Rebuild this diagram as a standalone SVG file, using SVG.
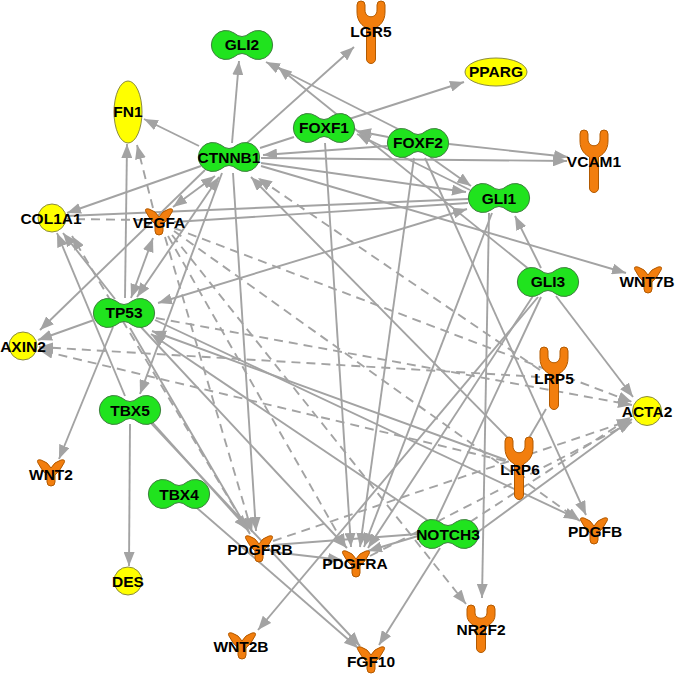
<svg xmlns="http://www.w3.org/2000/svg" xmlns:xlink="http://www.w3.org/1999/xlink" width="675" height="675" viewBox="0 0 675 675">
<style>
.e{stroke:#a3a3a3;stroke-width:1.9;fill:none;marker-end:url(#ah)}
.d{stroke:#a3a3a3;stroke-width:1.9;fill:none;stroke-dasharray:9 6;marker-end:url(#ah)}
.n{marker-end:none}
.b{marker-start:url(#ah)}
.g{fill:#20e31e;stroke:#3f7f3f;stroke-width:1}
.y{fill:#ffff00;stroke:#8a8a40;stroke-width:1}
.o{fill:#f27e0e;stroke:#b35a00;stroke-width:1}
text{font-family:"Liberation Sans",Arial,sans-serif;font-weight:bold;font-size:15.5px;fill:#000;text-anchor:middle}
</style>
<defs>
<marker id="ah" viewBox="0 0 14 11" refX="14" refY="5.5" markerWidth="14" markerHeight="11" markerUnits="userSpaceOnUse" orient="auto-start-reverse"><path d="M0,0 L14,5.5 L0,11 z" fill="#a3a3a3"/></marker>
<path id="db" d="M -8,-12 A 14.5 14.5 0 1 0 -8,12 Q 0,5 8,12 A 14.5 14.5 0 1 0 8,-12 Q 0,-5 -8,-12 Z"/>
<path id="rc" d="M -14,-27 A 4 4 0 0 1 -6,-27 L -6,-22 C -6,-13 6,-13 6,-22 L 6,-27 A 4 4 0 0 1 14,-27 L 14,-20 C 14,-10 8,-6 4.5,-4 L 4.5,27 A 4.5 4.5 0 0 1 -4.5,27 L -4.5,-4 C -8,-6 -14,-10 -14,-20 Z"/>
<path id="rs" d="M -14,-20 A 4 4 0 0 1 -6,-20 L -6,-16 C -6,-9 6,-9 6,-16 L 6,-20 A 4 4 0 0 1 14,-20 L 14,-14 C 14,-7 8,-4 4.5,-2 L 4.5,19 A 4.5 4.5 0 0 1 -4.5,19 L -4.5,-2 C -8,-4 -14,-7 -14,-14 Z"/>
<path id="lg" d="M -13,-10 Q -15,-14 -10,-13 Q -3,-11 0,-5 Q 3,-11 10,-13 Q 15,-14 13,-10 Q 9,-2 4,2 L 4,9 A 4 4 0 0 1 -4,9 L -4,2 Q -9,-2 -13,-10 Z"/>
</defs>
<rect width="675" height="675" fill="#fff"/>
<g id="edges">
<line class="e" x1="232" y1="143" x2="239" y2="61"/>
<line class="e" x1="199" y1="146" x2="144" y2="119"/>
<line class="e" x1="247" y1="143" x2="354" y2="47"/>
<line class="e" x1="201" y1="166" x2="67" y2="213"/>
<line class="e" x1="261" y1="158" x2="567" y2="161"/>
<line class="e" x1="261" y1="163" x2="466" y2="192"/>
<line class="e" x1="261" y1="166" x2="626" y2="273"/>
<line class="e" x1="222" y1="173" x2="140" y2="394"/>
<line class="e" x1="233" y1="173" x2="256" y2="531"/>
<line class="e" x1="205" y1="170" x2="40" y2="330"/>
<line class="e n" x1="260" y1="148" x2="294" y2="137"/>
<line class="e b" x1="215" y1="176" x2="173" y2="207"/>
<line class="e b" x1="219" y1="177" x2="137" y2="297"/>
<line class="e" x1="387" y1="146" x2="263" y2="155"/>
<line class="e" x1="510" y1="440" x2="251" y2="177"/>
<line class="d" x1="540" y1="370" x2="258" y2="178"/>
<line class="e" x1="349" y1="119" x2="464" y2="82"/>
<line class="e" x1="388" y1="137" x2="357" y2="131"/>
<line class="e" x1="470" y1="190" x2="357" y2="134"/>
<line class="e" x1="402" y1="131" x2="266" y2="62"/>
<line class="e" x1="530" y1="270" x2="278" y2="67"/>
<line class="e" x1="449" y1="144" x2="568" y2="157"/>
<line class="e" x1="430" y1="157" x2="471" y2="186"/>
<line class="e" x1="325" y1="143" x2="351" y2="547"/>
<line class="e" x1="414" y1="158" x2="360" y2="547"/>
<line class="e" x1="425" y1="158" x2="586" y2="515"/>
<line class="e" x1="541" y1="268" x2="515" y2="216"/>
<line class="e b" x1="158" y1="303" x2="467" y2="209"/>
<line class="e n" x1="468" y1="199" x2="66" y2="216"/>
<line class="e n" x1="468" y1="203" x2="174" y2="222"/>
<line class="e" x1="489" y1="213" x2="482" y2="598"/>
<line class="e" x1="492" y1="213" x2="364" y2="547"/>
<line class="e" x1="556" y1="296" x2="633" y2="397"/>
<line class="e" x1="538" y1="297" x2="258" y2="630"/>
<line class="e" x1="533" y1="296" x2="368" y2="548"/>
<line class="e n" x1="541" y1="297" x2="436" y2="521"/>
<line class="e" x1="125" y1="298" x2="127" y2="144"/>
<line class="e b" x1="131" y1="298" x2="153" y2="238"/>
<line class="e" x1="115" y1="299" x2="63" y2="233"/>
<line class="e" x1="125" y1="396" x2="57" y2="233"/>
<line class="e" x1="94" y1="320" x2="38" y2="340"/>
<line class="e" x1="113" y1="327" x2="59" y2="459"/>
<line class="e" x1="130" y1="424" x2="129" y2="566"/>
<line class="e" x1="150" y1="422" x2="360" y2="646"/>
<line class="e" x1="150" y1="420" x2="248" y2="529"/>
<line class="e" x1="197" y1="508" x2="358" y2="648"/>
<line class="e" x1="130" y1="328" x2="249" y2="532"/>
<line class="e" x1="140" y1="326" x2="347" y2="548"/>
<line class="e" x1="155" y1="320" x2="578" y2="519"/>
<line class="e" x1="506" y1="460" x2="152" y2="331"/>
<line class="e" x1="430" y1="522" x2="151" y2="334"/>
<line class="e" x1="440" y1="548" x2="379" y2="645"/>
<line class="e" x1="418" y1="536" x2="368" y2="551"/>
<line class="e" x1="478" y1="532" x2="632" y2="419"/>
<line class="e" x1="273" y1="552" x2="342" y2="560"/>
<line class="e n" x1="273" y1="545" x2="418" y2="534"/>
<line class="d" x1="273" y1="541" x2="631" y2="420"/>
<line class="d" x1="370" y1="556" x2="632" y2="422"/>
<line class="d" x1="470" y1="522" x2="631" y2="417"/>
<line class="d" x1="540" y1="377" x2="39" y2="347"/>
<line class="d" x1="505" y1="461" x2="39" y2="350"/>
<line class="d" x1="156" y1="318" x2="632" y2="405"/>
<line class="d" x1="174" y1="228" x2="632" y2="402"/>
<line class="d" x1="153" y1="208" x2="137" y2="145"/>
<line class="d n" x1="145" y1="220" x2="67" y2="219"/>
<line class="d" x1="165" y1="237" x2="252" y2="532"/>
<line class="d" x1="168" y1="236" x2="346" y2="548"/>
<line class="d" x1="172" y1="235" x2="466" y2="604"/>
<line class="d" x1="174" y1="231" x2="580" y2="521"/>
<line class="e n" x1="546" y1="409" x2="529" y2="438"/>
<line class="d" x1="250" y1="534" x2="72" y2="236"/>
</g>
<g id="n-GLI2"><use href="#db" x="242" y="45" class="g"/><text x="242" y="50">GLI2</text></g>
<g id="n-LGR5"><use href="#rc" x="371" y="32" class="o"/><text x="371" y="37">LGR5</text></g>
<g id="n-PPARG"><ellipse cx="496" cy="72" rx="31" ry="14" class="y"/><text x="496" y="77">PPARG</text></g>
<g id="n-FN1"><ellipse cx="128" cy="112" rx="14" ry="31" class="y"/><text x="128" y="117">FN1</text></g>
<g id="n-FOXF1"><use href="#db" x="324" y="128" class="g"/><text x="324" y="133">FOXF1</text></g>
<g id="n-CTNNB1"><use href="#db" x="229" y="157" class="g"/><text x="229" y="163">CTNNB1</text></g>
<g id="n-FOXF2"><use href="#db" x="418" y="143" class="g"/><text x="418" y="148">FOXF2</text></g>
<g id="n-VCAM1"><use href="#rc" x="594" y="161" class="o"/><text x="594" y="167">VCAM1</text></g>
<g id="n-GLI1"><use href="#db" x="499" y="198" class="g"/><text x="499" y="204">GLI1</text></g>
<g id="n-COL1A1"><circle cx="52" cy="218" r="14" class="y"/><text x="51" y="224">COL1A1</text></g>
<g id="n-VEGFA"><use href="#lg" x="159" y="222" class="o"/><text x="159" y="228">VEGFA</text></g>
<g id="n-WNT7B"><use href="#lg" x="648" y="280" class="o"/><text x="647" y="287">WNT7B</text></g>
<g id="n-GLI3"><use href="#db" x="548" y="282" class="g"/><text x="548" y="287">GLI3</text></g>
<g id="n-TP53"><use href="#db" x="124" y="313" class="g"/><text x="124" y="318">TP53</text></g>
<g id="n-AXIN2"><circle cx="23" cy="346" r="14" class="y"/><text x="23" y="352">AXIN2</text></g>
<g id="n-LRP5"><use href="#rc" x="554" y="378" class="o"/><text x="554" y="384">LRP5</text></g>
<g id="n-ACTA2"><circle cx="647" cy="411" r="14.5" class="y"/><text x="647" y="417">ACTA2</text></g>
<g id="n-TBX5"><use href="#db" x="130" y="410" class="g"/><text x="130" y="416">TBX5</text></g>
<g id="n-WNT2"><use href="#lg" x="51" y="473" class="o"/><text x="51" y="480">WNT2</text></g>
<g id="n-LRP6"><use href="#rc" x="519" y="468" class="o"/><text x="520" y="475">LRP6</text></g>
<g id="n-TBX4"><use href="#db" x="179" y="494" class="g"/><text x="179" y="500">TBX4</text></g>
<g id="n-PDGFRB"><use href="#lg" x="259" y="549" class="o"/><text x="260" y="555">PDGFRB</text></g>
<g id="n-NOTCH3"><use href="#db" x="448" y="534" class="g"/><text x="448" y="540">NOTCH3</text></g>
<g id="n-PDGFB"><use href="#lg" x="594" y="531" class="o"/><text x="595" y="537">PDGFB</text></g>
<g id="n-PDGFRA"><use href="#lg" x="356" y="564" class="o"/><text x="355" y="569">PDGFRA</text></g>
<g id="n-DES"><circle cx="128" cy="581" r="14" class="y"/><text x="128" y="587">DES</text></g>
<g id="n-NR2F2"><use href="#rs" x="481" y="629" class="o"/><text x="481" y="635">NR2F2</text></g>
<g id="n-WNT2B"><use href="#lg" x="242" y="646" class="o"/><text x="241" y="652">WNT2B</text></g>
<g id="n-FGF10"><use href="#lg" x="371" y="660" class="o"/><text x="371" y="667">FGF10</text></g>
</svg>
